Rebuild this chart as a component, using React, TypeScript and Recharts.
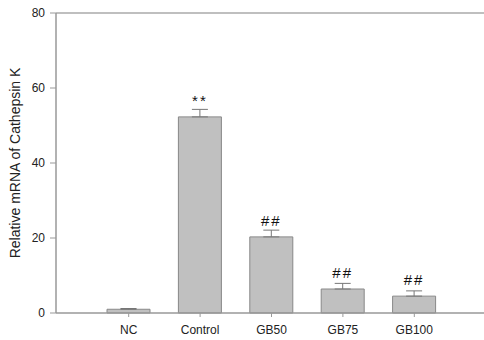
import { BarChart, Bar, XAxis, YAxis, ErrorBar, LabelList, ReferenceLine } from 'recharts';

const groups = ['NC', 'Control', 'GB50', 'GB75', 'GB100'];
const means = [1.0, 52.3, 20.3, 6.4, 4.5];
const errors = [0.2, 2.0, 1.8, 1.5, 1.4];
const marks = ['', '**', '##', '##', '##'];
const yTicks = [0, 20, 40, 60, 80];

const data = groups.map((g, i) => ({
  name: g,
  value: means[i],
  err: [0, errors[i]],
  mark: marks[i],
}));

const font = '"Liberation Sans", Arial, sans-serif';

// rotated y title, placed by hand next to the tick labels
const YTitle = (props: any) => {
  const { viewBox } = props;
  const cx = 15;
  const cy = viewBox.y + viewBox.height / 2;
  return (
    <text
      x={cx}
      y={cy}
      transform={`rotate(-90 ${cx} ${cy})`}
      textAnchor="middle"
      dominantBaseline="central"
      fontSize={14}
      fill="#222"
      fontFamily={font}
    >
      Relative mRNA of Cathepsin K
    </text>
  );
};

const App = () => {
  return (
    <div style={{ position: 'absolute', left: 0, top: 0, background: '#fff' }}>
      <BarChart
        width={484}
        height={340}
        data={data}
        margin={{ top: 13, right: 0, bottom: 0, left: 0 }}
      >
        <XAxis
          dataKey="name"
          height={27}
          padding={{ left: 37, right: 34 }}
          tick={{ fontSize: 12, fill: '#222', fontFamily: font }}
          tickSize={4}
          tickMargin={8}
          tickLine={{ stroke: '#999' }}
          axisLine={{ stroke: '#999', strokeWidth: 1.5 }}
        />
        <YAxis
          width={56}
          domain={[0, 80]}
          ticks={yTicks}
          interval={0}
          tick={{ fontSize: 12, fill: '#222', fontFamily: font }}
          tickSize={6}
          tickMargin={5}
          tickLine={{ stroke: '#999' }}
          axisLine={{ stroke: '#999', strokeWidth: 1.5 }}
          label={{ content: YTitle }}
        />
        <ReferenceLine y={80} stroke="#aaa" strokeWidth={1.5} />
        <Bar
          dataKey="value"
          barSize={43}
          fill="#c0c0c0"
          stroke="#888"
          strokeWidth={1}
          isAnimationActive={false}
        >
          <ErrorBar dataKey="err" width={8} stroke="#777" strokeWidth={1} direction="y" />
          <LabelList
            dataKey="mark"
            position="top"
            offset={11}
            fontSize={15}
            letterSpacing={2}
            fill="#111"
            fontFamily={font}
          />
        </Bar>
      </BarChart>
    </div>
  );
};

export default App;
